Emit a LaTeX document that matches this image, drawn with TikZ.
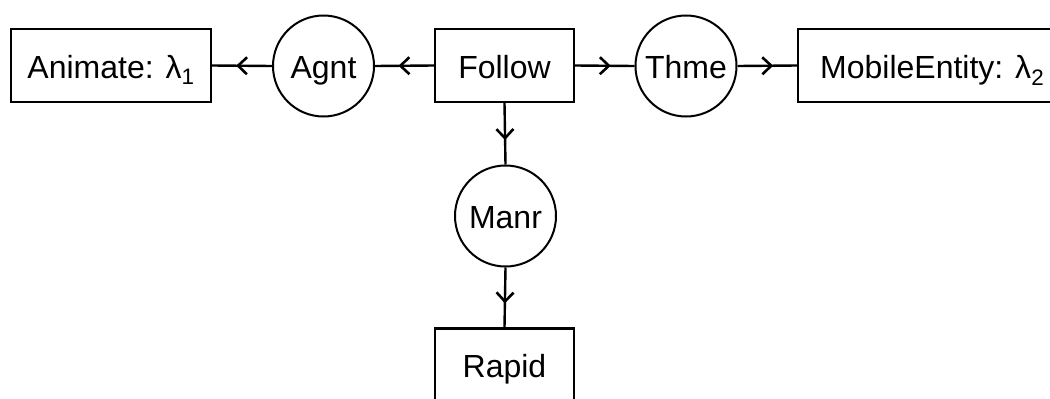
\documentclass[tikz,border=0pt]{standalone}
\usepackage{fontspec}
\setmainfont{Liberation Sans}
\usetikzlibrary{arrows.meta,decorations.markings}
\tikzset{
  label text/.style={font=\fontsize{32}{38}\selectfont, text height=30pt, text depth=5pt},
  concept/.style={draw, line width=2.4pt, rectangle, inner sep=0pt, minimum height=73pt, label text},
  relation/.style={draw, line width=2pt, circle, inner sep=0pt, minimum size=101pt, label text},
  link/.style={line width=2.4pt, postaction={decorate}, decoration={markings,
      mark=at position 0.6 with {\arrow{Straight Barb[length=9pt,width=17pt,line width=2.6pt]}}}},
}
\begin{document}
\begin{tikzpicture}[x=1pt,y=-1pt]
  \useasboundingbox (0,0) rectangle (1050,399);
  % concept boxes
  \node[concept, minimum width=200pt] (animate) at (111,65.5) {Animate: λ\textsubscript{1}};
  \node[concept, minimum width=139pt] (follow) at (504.5,65.5) {Follow};
  \node[concept, minimum width=268pt, anchor=west] (mobile) at (797,65.5) {MobileEntity: λ\textsubscript{2}};
  \node[concept, minimum width=139pt] (rapid) at (504.5,365) {Rapid};
  % relation circles
  \node[relation] (agnt) at (323.5,66) {Agnt};
  \node[relation] (thme) at (686,66) {Thme};
  \node[relation] (manr) at (505.5,216) {Manr};
  % links
  \draw[link] (follow.west) -- (agnt.east);
  \draw[link] (agnt.west) -- (animate.east);
  \draw[link] (follow.east) -- (thme.west);
  \draw[link] (thme.east) -- (mobile.west);
  \draw[link] (follow.south) -- (manr.north);
  \draw[link] (manr.south) -- (rapid.north);
\end{tikzpicture}
\end{document}
